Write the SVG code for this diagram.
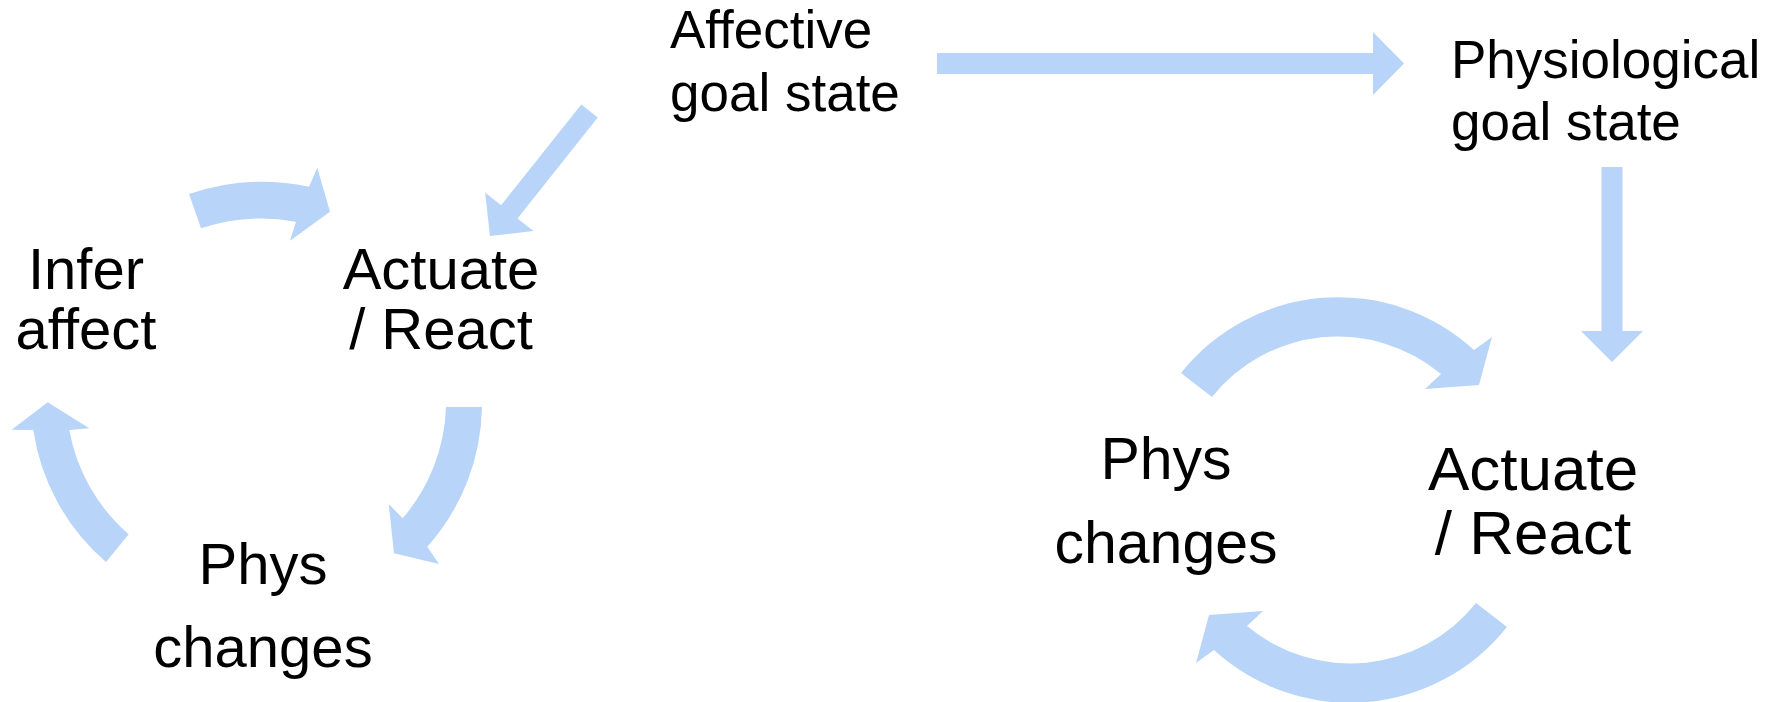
<svg xmlns="http://www.w3.org/2000/svg" width="1774" height="702" viewBox="0 0 1774 702">
<style>
.arr{fill:#B8D4F8;stroke:none}
.t{font-family:"Liberation Sans",Arial,sans-serif;fill:#000}
.l{font-size:58px;text-anchor:middle}
.rp{font-size:59px;text-anchor:middle}
.ra{font-size:62px;text-anchor:middle}
.g{font-size:53px}
</style>
<defs>
<path id="rarc" d="M1181,373 A201,201 0 0 1 1474,350 L1492,337 L1479,385 L1425,389 L1441,374 A161,161 0 0 0 1212,397 Z"/>
</defs>
<rect width="1774" height="702" fill="#fff"/>
<g id="connectors">
<path class="arr" d="M189,194 A225,225 0 0 1 309,186.7 L317.3,167.7 L330,211.7 L290,240.7 L296,221.7 A190,190 0 0 0 201,228.3 Z"/>
<path class="arr" d="M482,407 A215,215 0 0 1 427.3,546.7 L439,564 L394,553.3 L388.7,504 L402.7,518.3 A180,180 0 0 0 446,407 Z"/>
<path class="arr" d="M106,562 A215,215 0 0 1 33.3,430 L11.7,429.7 L47.7,402.3 L89.3,428.3 L69.3,430 A180,180 0 0 0 128.7,534.3 Z"/>
<polygon class="arr" points="581.3,104.4 597.7,117.6 517.5,218.4 533.5,231.1 490,236 485.1,192.5 501.1,205.2"/>
<polygon class="arr" points="937,53 1373,53 1373,32 1404,63.5 1373,95 1373,74 937,74"/>
<polygon class="arr" points="1601.5,167 1622.5,167 1622.5,331 1643,331 1612,362 1581,331 1601.5,331"/>
<use href="#rarc" class="arr"/>
<use href="#rarc" class="arr" transform="rotate(180 1344 500)"/>
</g>
<g id="infer-affect"><text class="t l" x="86" y="289">Infer</text><text class="t l" x="86" y="349">affect</text></g>
<g id="actuate-left"><text class="t l" x="441" y="289">Actuate</text><text class="t l" x="441" y="349">/ React</text></g>
<g id="phys-left"><text class="t l" x="263" y="584">Phys</text><text class="t l" x="263" y="667">changes</text></g>
<g id="affective-goal"><text class="t g" x="670" y="48">Affective</text><text class="t g" x="670" y="111">goal state</text></g>
<g id="physiological-goal"><text class="t g" x="1451" y="78">Physiological</text><text class="t g" x="1451" y="140">goal state</text></g>
<g id="phys-right"><text class="t rp" x="1166" y="479">Phys</text><text class="t rp" x="1166" y="563">changes</text></g>
<g id="actuate-right"><text class="t ra" x="1533" y="490">Actuate</text><text class="t ra" x="1533" y="554">/ React</text></g>
</svg>
